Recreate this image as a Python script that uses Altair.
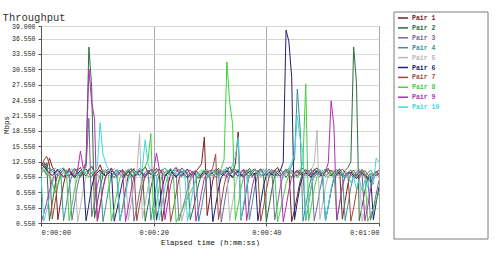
import altair as alt
import pandas as pd

pair_names = ["Pair 1", "Pair 2", "Pair 3", "Pair 4", "Pair 5",
              "Pair 6", "Pair 7", "Pair 8", "Pair 9", "Pair 10"]
pair_colors = ["#7a2020", "#2e6e40", "#6e6e96", "#3a9494", "#b8b8b8",
               "#202070", "#a0483a", "#40d040", "#b030b0", "#40d8d8"]

x_tick_values = [0, 20, 40, 60]
x_tick_labels = ["0:00:00", "0:00:20", "0:00:40", "0:01:00"]
y_tick_values = [0.55, 3.55, 6.55, 9.55, 12.55, 15.55, 18.55, 21.55,
                 24.55, 27.55, 30.55, 33.55, 36.55, 39.0]

sample_step = 0.5  # seconds between samples

pair1 = [11.8, 12.4, 11.0, 13.2, 11.5, 10.6, 1.2, 4.8, 8.1, 10.4, 11.2, 10.1, 9.6, 10.8, 11.4, 10.2, 9.7, 10.9, 11.6, 10.4,
         10.8, 11.9, 10.3, 9.8, 10.6, 11.3, 10.1, 9.5, 1.0, 3.6, 6.9, 9.8, 10.7, 11.0, 10.2, 9.9, 10.8, 11.5, 10.4, 10.0,
         10.6, 11.2, 10.3, 0.9, 4.2, 7.8, 10.1, 10.9, 11.4, 10.2, 9.7, 10.5, 11.1, 10.0, 9.6, 10.7, 11.3, 12.1, 17.3, 2.0,
         5.5, 8.9, 10.6, 11.2, 10.1, 9.8, 10.7, 11.5, 10.4, 12.0, 18.3, 1.1, 4.0, 7.3, 9.9, 10.8, 11.1, 10.2, 9.6, 10.5,
         11.0, 10.3, 9.9, 10.8, 11.4, 10.1, 9.7, 10.6, 11.2, 0.8, 3.1, 5.9, 8.7, 10.3, 11.0, 10.2, 9.8, 10.9, 11.3, 10.4,
         9.9, 10.7, 11.2, 10.0, 9.5, 10.6, 11.1, 1.3, 4.9, 8.2, 10.3, 10.9, 9.8, 10.4, 11.0, 10.1, 9.2, 8.6, 9.7, 10.5,
         10.8]
pair2 = [10.9, 11.6, 12.3, 1.0, 4.4, 8.0, 10.2, 10.9, 11.3, 10.1, 9.6, 10.4, 11.0, 10.2, 9.5, 10.6, 12.2, 34.9, 27.0, 1.5,
         4.5, 7.6, 9.8, 10.6, 11.1, 10.0, 9.4, 10.3, 10.9, 10.2, 9.7, 10.5, 11.2, 10.3, 9.8, 10.6, 11.0, 0.9, 4.1, 7.4,
         9.9, 10.7, 11.1, 10.2, 9.6, 10.4, 11.0, 10.1, 9.7, 10.5, 11.3, 10.6, 10.0, 1.2, 3.3, 5.6, 8.2, 10.1, 10.8, 10.3,
         9.8, 10.5, 11.1, 10.3, 9.9, 10.6, 11.4, 10.2, 9.6, 10.4, 11.0, 10.1, 9.7, 10.5, 11.2, 10.4, 9.9, 10.6, 11.1, 10.0,
         0.8, 3.9, 7.2, 9.8, 10.7, 11.0, 10.2, 9.5, 10.3, 10.9, 10.1, 9.7, 10.6, 11.3, 10.4, 9.8, 10.5, 11.0, 10.2, 9.6,
         10.4, 11.1, 10.3, 9.7, 10.5, 11.0, 10.2, 9.6, 10.8, 11.4, 12.5, 34.9, 28.0, 1.0, 3.8, 6.9, 9.5, 10.3, 9.8, 10.6,
         10.1]
pair3 = [10.2, 10.8, 9.9, 10.5, 11.1, 10.3, 9.7, 10.4, 10.9, 10.1, 9.6, 1.1, 4.6, 8.0, 10.1, 10.7, 11.5, 21.0, 1.8, 4.7,
         7.9, 9.9, 10.6, 11.0, 10.2, 9.5, 10.3, 10.8, 10.0, 9.6, 10.4, 11.1, 10.2, 0.9, 3.5, 6.6, 9.4, 10.5, 10.9, 10.1,
         9.7, 10.4, 11.0, 10.2, 9.8, 10.6, 11.2, 10.3, 9.9, 1.0, 2.8, 4.9, 7.1, 9.2, 10.4, 10.9, 10.1, 9.6, 10.3, 10.8,
         10.2, 9.7, 10.5, 11.1, 0.7, 4.0, 7.5, 9.8, 10.6, 11.0, 10.2, 9.6, 10.4, 10.9, 10.1, 9.5, 10.3, 10.8, 10.0, 9.7,
         10.5, 11.1, 10.3, 1.2, 4.3, 7.7, 9.9, 10.6, 11.0, 10.2, 9.6, 10.4, 10.9, 10.1, 9.7, 10.5, 11.2, 1.0, 3.7, 7.0,
         9.6, 10.4, 11.0, 10.2, 9.8, 10.5, 11.1, 10.3, 9.7, 10.4, 10.9, 10.0, 9.5, 10.3, 10.8, 10.1, 9.6, 1.1, 3.4, 6.2,
         8.9]
pair4 = [11.5, 12.0, 10.8, 11.4, 10.6, 10.1, 11.0, 10.4, 1.0, 4.1, 7.6, 9.9, 10.7, 11.2, 10.3, 9.8, 10.6, 11.1, 10.2, 9.7,
         10.4, 10.9, 0.8, 3.9, 7.3, 9.7, 10.5, 11.0, 10.2, 9.6, 10.3, 10.8, 10.1, 9.7, 10.5, 11.2, 10.4, 9.9, 10.6, 1.1,
         4.5, 7.9, 10.1, 10.8, 11.3, 10.4, 9.8, 10.5, 11.0, 10.2, 9.6, 10.3, 10.9, 10.1, 9.7, 10.4, 0.9, 3.6, 6.8, 9.5,
         10.3, 10.9, 10.1, 9.6, 10.4, 11.0, 10.2, 9.8, 10.5, 11.1, 10.3, 9.7, 10.4, 10.9, 1.2, 4.4, 7.8, 10.0, 10.6, 11.0,
         10.2, 9.6, 10.4, 10.9, 10.1, 9.7, 10.5, 11.1, 10.3, 11.8, 13.0, 26.7, 19.0, 0.9, 3.8, 7.1, 9.6, 10.4, 10.9, 10.2,
         9.7, 10.5, 11.0, 10.2, 9.6, 10.3, 10.8, 10.1, 1.0, 4.2, 7.5, 9.8, 10.5, 11.0, 10.2, 9.6, 10.3, 10.9, 10.1, 9.7,
         10.4]
pair5 = [10.6, 11.2, 10.4, 9.9, 10.7, 11.3, 10.5, 9.8, 10.4, 11.0, 10.2, 9.6, 10.3, 0.8, 3.7, 7.1, 9.6, 10.4, 10.9, 10.1,
         9.7, 10.5, 11.1, 10.3, 9.8, 10.6, 11.2, 10.4, 9.9, 10.7, 10.2, 1.1, 4.5, 8.0, 10.2, 18.0, 1.4, 4.3, 7.6, 9.8,
         10.5, 11.0, 10.2, 9.6, 10.4, 10.9, 10.1, 9.7, 10.5, 11.1, 0.9, 3.2, 5.8, 8.4, 10.2, 10.9, 10.3, 9.8, 10.6, 11.1,
         10.2, 9.7, 10.4, 11.0, 10.3, 9.8, 10.5, 1.0, 4.6, 7.9, 10.0, 10.7, 11.1, 10.2, 9.6, 10.4, 10.9, 10.1, 9.7, 10.5,
         11.0, 10.2, 9.6, 10.3, 10.8, 10.1, 9.7, 10.5, 11.1, 10.3, 9.8, 10.6, 11.2, 10.4, 9.9, 10.5, 11.0, 12.2, 18.7, 1.2,
         4.3, 7.6, 9.8, 10.5, 11.0, 10.2, 9.6, 10.3, 10.9, 10.1, 9.7, 10.4, 10.9, 10.2, 0.9, 3.0, 5.4, 7.9, 9.6, 10.3,
         10.0]
pair6 = [12.2, 11.6, 10.9, 10.3, 9.8, 10.5, 11.0, 10.2, 9.5, 10.1, 10.7, 9.9, 9.4, 10.2, 10.8, 10.0, 1.0, 4.2, 7.6, 9.7,
         10.4, 10.9, 10.1, 9.6, 10.3, 10.7, 0.9, 3.3, 6.2, 8.9, 10.1, 10.6, 9.9, 9.4, 10.2, 10.8, 10.0, 9.5, 10.3, 10.9,
         10.1, 1.1, 4.0, 7.3, 9.6, 10.3, 10.8, 10.0, 9.5, 10.2, 10.7, 9.9, 9.4, 10.1, 10.6, 9.8, 9.3, 10.0, 10.6, 9.9,
         9.5, 0.8, 3.9, 7.2, 9.5, 10.2, 10.8, 10.0, 9.4, 10.1, 10.7, 9.9, 9.5, 10.2, 10.6, 9.8, 10.3, 1.0, 4.4, 7.8,
         9.9, 10.5, 10.0, 9.6, 10.2, 10.8, 12.4, 38.2, 36.0, 29.0, 1.2, 4.6, 7.9, 9.8, 10.4, 9.9, 9.5, 10.2, 10.7, 10.0,
         9.6, 1.0, 3.8, 6.9, 9.4, 10.1, 10.6, 9.9, 9.4, 10.1, 10.5, 9.7, 9.2, 9.9, 10.4, 9.6, 9.1, 9.8, 1.2, 4.5,
         7.6]
pair7 = [11.2, 12.8, 13.6, 12.1, 1.3, 4.6, 8.1, 10.3, 11.0, 10.4, 9.8, 10.6, 11.2, 10.3, 9.7, 10.5, 11.1, 10.2, 9.6, 10.4,
         0.9, 3.8, 7.2, 9.7, 10.5, 11.0, 10.2, 9.6, 10.4, 10.9, 10.1, 9.7, 10.5, 11.2, 1.0, 4.1, 7.5, 9.8, 10.5, 11.0,
         10.2, 9.7, 10.4, 11.0, 10.1, 9.6, 0.8, 3.4, 6.4, 9.2, 10.3, 10.9, 10.1, 9.6, 10.3, 10.8, 10.0, 9.5, 10.2, 10.7,
         10.1, 11.4, 14.0, 1.2, 4.5, 7.9, 10.0, 10.7, 11.1, 10.3, 9.7, 10.4, 10.9, 10.1, 9.6, 10.3, 10.9, 10.2, 0.9, 3.7,
         7.0, 9.6, 10.4, 10.9, 10.1, 9.6, 10.3, 10.8, 10.0, 9.5, 10.2, 10.7, 9.9, 10.5, 1.1, 4.4, 7.8, 9.9, 10.5, 11.0,
         10.2, 9.6, 10.3, 10.9, 10.1, 9.7, 10.5, 11.1, 10.3, 9.8, 0.9, 3.5, 6.7, 9.4, 10.2, 10.8, 10.0, 9.4, 10.1, 10.6,
         9.9]
pair8 = [10.4, 11.0, 10.2, 9.6, 8.5, 6.4, 8.0, 9.7, 10.4, 10.9, 1.0, 4.0, 7.4, 9.6, 10.3, 10.8, 10.0, 9.5, 10.2, 10.7,
         9.9, 9.4, 10.1, 10.6, 9.8, 0.9, 3.5, 6.6, 9.3, 10.2, 10.8, 10.0, 9.5, 10.2, 10.7, 9.9, 10.5, 11.6, 12.8, 18.0,
         1.2, 4.3, 7.7, 9.8, 10.4, 10.9, 10.1, 9.6, 0.7, 1.9, 3.0, 4.2, 5.3, 6.5, 7.6, 8.8, 9.9, 10.5, 10.9, 10.1,
         9.6, 10.3, 10.8, 10.0, 11.2, 12.9, 32.0, 24.0, 20.0, 1.1, 4.0, 7.3, 9.7, 10.4, 10.9, 10.1, 9.6, 10.3, 10.8, 10.0,
         9.5, 10.2, 10.7, 9.9, 0.8, 3.1, 5.6, 8.2, 9.9, 10.5, 10.0, 9.4, 10.1, 12.6, 27.7, 1.0, 3.9, 7.2, 9.6, 10.3,
         10.8, 10.0, 9.5, 10.2, 10.7, 1.1, 4.2, 7.5, 9.7, 10.4, 10.9, 10.1, 9.6, 10.3, 10.7, 9.9, 0.9, 2.1, 3.4, 4.9,
         6.5]
pair9 = [0.6, 2.4, 4.5, 6.8, 8.9, 10.2, 10.8, 10.1, 9.6, 10.4, 11.0, 10.3, 9.8, 10.9, 14.6, 11.2, 12.4, 30.6, 24.0, 21.0,
         1.0, 4.1, 7.5, 9.8, 10.6, 11.1, 10.3, 9.7, 10.5, 11.0, 0.8, 3.6, 6.9, 9.5, 10.3, 10.9, 10.1, 9.6, 10.4, 11.0,
         10.8, 14.2, 11.0, 10.4, 1.2, 4.5, 7.9, 10.0, 10.6, 11.0, 10.2, 9.7, 10.4, 10.9, 10.1, 0.9, 3.4, 6.5, 9.3, 10.3,
         10.9, 10.1, 9.6, 10.3, 10.8, 10.0, 9.5, 10.2, 10.8, 10.1, 9.7, 10.4, 11.0, 1.0, 4.3, 7.7, 9.9, 10.6, 11.1, 10.3,
         9.8, 10.5, 11.0, 10.2, 9.7, 10.4, 0.8, 3.7, 7.0, 9.6, 10.4, 10.9, 10.1, 9.6, 10.3, 10.8, 10.0, 9.5, 10.2, 10.7,
         9.9, 10.6, 12.3, 24.4, 19.5, 1.1, 4.4, 7.8, 9.9, 10.5, 10.0, 9.4, 10.1, 10.7, 9.9, 1.0, 3.8, 7.0, 9.3, 10.1,
         9.6]
pair10 = [9.8, 0.9, 3.0, 5.6, 8.2, 10.0, 10.7, 11.2, 10.4, 9.9, 10.6, 11.1, 10.3, 9.8, 10.5, 11.0, 10.2, 9.6, 10.3, 10.9,
          11.6, 20.1, 14.0, 12.2, 11.0, 10.4, 9.9, 10.6, 1.0, 3.3, 6.1, 8.8, 10.2, 10.8, 10.1, 9.7, 11.4, 16.8, 12.0, 10.6,
          10.1, 9.7, 1.1, 4.2, 7.6, 9.8, 10.5, 11.0, 10.2, 9.7, 10.4, 10.9, 0.9, 3.8, 7.1, 9.6, 10.4, 10.9, 10.1, 9.6,
          10.3, 10.8, 10.0, 9.5, 10.2, 10.7, 11.2, 10.4, 12.0, 13.5, 17.3, 1.2, 4.4, 7.8, 9.9, 10.5, 11.0, 10.2, 9.7, 10.4,
          10.9, 10.1, 9.6, 10.3, 10.8, 10.0, 9.5, 10.2, 11.3, 12.4, 13.8, 21.5, 17.0, 14.2, 1.3, 4.6, 7.9, 9.8, 10.4, 11.0,
          10.2, 1.0, 3.9, 7.2, 9.6, 10.3, 10.8, 10.0, 9.4, 10.1, 8.4, 9.6, 7.2, 9.1, 6.8, 8.9, 7.5, 10.2, 8.1, 13.2,
          12.5]

all_pairs = [pair1, pair2, pair3, pair4, pair5, pair6, pair7, pair8, pair9, pair10]

rows = []
for name, vals in zip(pair_names, all_pairs):
    for i, v in enumerate(vals):
        rows.append({"t": i * sample_step, "mbps": v, "pair": name})
df = pd.DataFrame(rows)

color_scale = alt.Scale(domain=pair_names, range=pair_colors)
label_expr = str(x_tick_labels) + "[datum.value / 20]"

mono = "Liberation Mono"
plot_w, plot_h = 338, 197

main = alt.Chart(df).mark_line(strokeWidth=1, clip=True).encode(
    x=alt.X("t:Q",
            scale=alt.Scale(domain=[0, 60], nice=False, zero=False),
            axis=alt.Axis(values=x_tick_values, labelExpr=label_expr,
                          title="Elapsed time (h:mm:ss)", grid=True,
                          gridColor="#a8a8a8", labelPadding=2, titlePadding=3)),
    y=alt.Y("mbps:Q",
            scale=alt.Scale(domain=[0.55, 39.0], nice=False, zero=False),
            axis=alt.Axis(values=y_tick_values, format=".3f", title="Mbps",
                          gridColor="#d6d6d6", labelPadding=3, titlePadding=1,
                          labelFontSize=6.5)),
    color=alt.Color("pair:N", scale=color_scale, legend=None),
).properties(
    width=plot_w, height=plot_h,
    title=alt.TitleParams("Throughput", anchor="start", frame="bounds",
                          font=mono, fontSize=10.5, fontWeight="normal",
                          color="#333333", offset=0),
)

# legend panel: entries spaced ~9.9 px, first entry 8 px above the plot top
entry_gap = 9.9
first_offset = 8
d0 = first_offset / entry_gap
leg_df = pd.DataFrame({"row": list(range(len(pair_names))), "label": pair_names})
leg_y = alt.Y("row:Q",
              scale=alt.Scale(domain=[d0, d0 + plot_h / entry_gap], reverse=True,
                              nice=False, zero=False),
              axis=None)

frame = alt.Chart(pd.DataFrame({"k": [0]})).mark_rect(
    fillOpacity=0, stroke="#7a7a7a", strokeWidth=1
).encode(x=alt.value(0), x2=alt.value(94), y=alt.value(-14), y2=alt.value(213))

leg_rules = alt.Chart(leg_df).mark_rule(strokeWidth=1.5).encode(
    x=alt.value(4), x2=alt.value(14), y=leg_y,
    color=alt.Color("label:N", scale=color_scale, legend=None),
)
leg_text = alt.Chart(leg_df).mark_text(
    align="left", baseline="middle", font=mono, fontSize=6.5, fontWeight="bold"
).encode(
    x=alt.value(18), y=leg_y, text="label:N",
    color=alt.Color("label:N", scale=color_scale, legend=None),
)
legend_panel = alt.layer(frame, leg_rules, leg_text).properties(
    width=94, height=plot_h, view=alt.ViewBackground(stroke="transparent")
)

chart = alt.hconcat(main, legend_panel, spacing=13, bounds="full").properties(
    padding={"left": 2, "top": 11, "right": 0, "bottom": 0},
    background="white",
).configure_view(
    stroke="#808080", strokeWidth=1
).configure_axis(
    domainColor="#555555", tickColor="#555555", tickSize=3,
    labelFont=mono, labelFontSize=7, labelColor="#222222",
    titleFont=mono, titleFontSize=7.5, titleFontWeight="normal", titleColor="#111111",
)

chart.save("out.html", embed_options={"renderer": "svg", "actions": False})
